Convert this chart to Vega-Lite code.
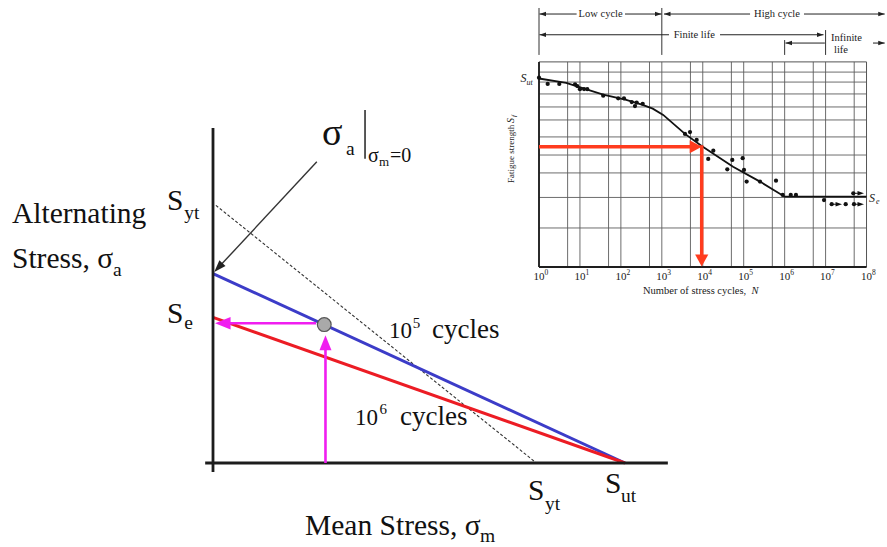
{
  "$schema": "https://vega.github.io/schema/vega-lite/v6.json",
  "width": 887,
  "height": 547,
  "autosize": {"type": "fit", "contains": "padding"},
  "padding": 0,
  "background": "#ffffff",
  "config": {"view": {"stroke": null}, "text": {"font": "Liberation Serif"}},
  "datasets": {
    "main_axes": [
      {"sm": 0, "sa": -2.7, "sm2": 0, "sa2": 101.7},
      {"sm": -1.9, "sa": 0, "sm2": 110.4, "sa2": 0}
    ],
    "yield_line": [{"sm": 0.7, "sa": 78.2, "sm2": 78.5, "sa2": 0}],
    "goodman": [
      {"life": "10^5 cycles", "sm": 0, "sa": 57.5, "sm2": 100, "sa2": 0},
      {"life": "10^6 cycles", "sm": 0, "sa": 44.2, "sm2": 100, "sa2": 0}
    ],
    "projection": [
      {"leg": "up", "sm": 27.3, "sa": 0, "sm2": 27.3, "sa2": 35.8, "tip_sm": 27.3, "tip_sa": 38.8},
      {"leg": "left", "sm": 25.0, "sa": 42.4, "sm2": 2.7, "sa2": 42.4, "tip_sm": 0.5, "tip_sa": 42.4}
    ],
    "operating_point": [{"sm": 27.0, "sa": 42.0}],
    "annotation_arrow": [{"sm": 25.2, "sa": 91.4, "sm2": 1.6, "sa2": 59.7, "tip_sm": 0.3, "tip_sa": 58.0}],
    "annotation_bar": [{"sm": 36.9, "sa": 92.3, "sm2": 36.9, "sa2": 107.1}],
    "main_text": [
      {"text": "Alternating", "sm": -48.79, "sa": 72.84, "role": "label"},
      {"text": "Stress, σ", "sm": -48.79, "sa": 59.18, "role": "label"},
      {"text": "a", "sm": -24.27, "sa": 56.75, "role": "sub"},
      {"text": "S", "sm": -11.17, "sa": 76.78, "role": "label"},
      {"text": "yt", "sm": -7.0, "sa": 74.05, "role": "sub"},
      {"text": "S", "sm": -11.17, "sa": 42.49, "role": "label"},
      {"text": "e", "sm": -7.0, "sa": 40.67, "role": "sub"},
      {"text": "σ", "sm": 26.46, "sa": 96.51, "role": "sigma"},
      {"text": "a", "sm": 32.28, "sa": 93.47, "role": "sub"},
      {"text": "σ", "sm": 37.62, "sa": 91.35, "role": "small"},
      {"text": "m", "sm": 40.29, "sa": 90.14, "role": "tiny"},
      {"text": "=0", "sm": 42.96, "sa": 91.35, "role": "small"},
      {"text": "10", "sm": 42.72, "sa": 37.94, "role": "number"},
      {"text": "5", "sm": 48.5, "sa": 40.97, "role": "sup"},
      {"text": "cycles", "sm": 53.16, "sa": 37.94, "role": "label_mid"},
      {"text": "10", "sm": 34.47, "sa": 11.53, "role": "number"},
      {"text": "6", "sm": 40.4, "sa": 14.87, "role": "sup"},
      {"text": "cycles", "sm": 45.39, "sa": 11.53, "role": "label_mid"},
      {"text": "S", "sm": 76.46, "sa": -11.23, "role": "label"},
      {"text": "yt", "sm": 80.6, "sa": -14.26, "role": "sub"},
      {"text": "S", "sm": 95.15, "sa": -9.1, "role": "label"},
      {"text": "ut", "sm": 99.0, "sa": -11.84, "role": "sub"},
      {"text": "Mean Stress, σ", "sm": 22.33, "sa": -21.85, "role": "label"},
      {"text": "m", "sm": 64.8, "sa": -23.98, "role": "sub"}
    ],
    "sn_grid_v": [
      {"N": 5, "S": 0, "S2": 108.8}, {"N": 10, "S": 0, "S2": 108.8},
      {"N": 50, "S": 0, "S2": 108.8}, {"N": 100, "S": 0, "S2": 108.8},
      {"N": 500, "S": 0, "S2": 108.8}, {"N": 1000, "S": 0, "S2": 108.8},
      {"N": 5000, "S": 0, "S2": 108.8}, {"N": 10000, "S": 0, "S2": 108.8},
      {"N": 50000, "S": 0, "S2": 108.8}, {"N": 100000, "S": 0, "S2": 108.8},
      {"N": 500000, "S": 0, "S2": 108.8}, {"N": 1000000, "S": 0, "S2": 108.8},
      {"N": 5000000, "S": 0, "S2": 108.8}, {"N": 10000000, "S": 0, "S2": 108.8},
      {"N": 50000000, "S": 0, "S2": 108.8}
    ],
    "sn_grid_h": [
      {"N": 1, "N2": 100000000, "S": 20.7}, {"N": 1, "N2": 100000000, "S": 36.9},
      {"N": 1, "N2": 100000000, "S": 49.9}, {"N": 1, "N2": 100000000, "S": 59.4},
      {"N": 1, "N2": 100000000, "S": 69.0}, {"N": 1, "N2": 100000000, "S": 78.0},
      {"N": 1, "N2": 100000000, "S": 84.9}, {"N": 1, "N2": 100000000, "S": 91.8},
      {"N": 1, "N2": 100000000, "S": 98.1}, {"N": 1, "N2": 100000000, "S": 103.4}
    ],
    "sn_frame": [{"N": 1, "N2": 100000000, "S": 0, "S2": 108.8}],
    "sn_frame_edges": [
      {"N": 1, "N2": 1, "S": 0, "S2": 108.8},
      {"N": 1, "N2": 100000000, "S": 0, "S2": 0}
    ],
    "life_ticks": [
      {"N": 1, "S": 112.5, "S2": 137.4},
      {"N": 1000, "S": 112.5, "S2": 137.4},
      {"N": 1000000, "S": 112.5, "S2": 120.4},
      {"N": 10000000, "S": 112.5, "S2": 125.7}
    ],
    "life_spans": [
      {"span": "Low cycle", "N": 1.03, "N2": 8.3, "S": 134.2},
      {"span": "Low cycle", "N": 126, "N2": 982, "S": 134.2},
      {"span": "High cycle", "N": 1130, "N2": 143000, "S": 134.2},
      {"span": "High cycle", "N": 2970000, "N2": 278000000, "S": 134.2},
      {"span": "Finite life", "N": 1.03, "N2": 1497, "S": 123.2},
      {"span": "Finite life", "N": 26400, "N2": 8900000, "S": 123.2},
      {"span": "Infinite life", "N": 1050000, "N2": 9600000, "S": 118.8},
      {"span": "Infinite life", "N": 144000000, "N2": 278000000, "S": 118.8}
    ],
    "life_heads": [
      {"N": 1.03, "S": 134.2, "points": "left"},
      {"N": 982, "S": 134.2, "points": "right"},
      {"N": 1130, "S": 134.2, "points": "left"},
      {"N": 278000000, "S": 134.2, "points": "right"},
      {"N": 1.03, "S": 123.2, "points": "left"},
      {"N": 8900000, "S": 123.2, "points": "right"},
      {"N": 1050000, "S": 118.8, "points": "left"},
      {"N": 278000000, "S": 118.8, "points": "right"}
    ],
    "lookup": [
      {"leg": "across", "N": 1, "S": 63.8, "N2": 6110, "S2": 63.8, "tip_N": 9420, "tip_S": 63.8},
      {"leg": "down", "N": 9420, "S": 64.6, "N2": 9420, "S2": 5.0, "tip_N": 9420, "tip_S": 0.2}
    ],
    "sn_curve": [
      {"N": 1, "S": 100.0}, {"N": 4.6, "S": 97.7}, {"N": 37, "S": 91.4},
      {"N": 135, "S": 88.7}, {"N": 340, "S": 86.0}, {"N": 600, "S": 84.0},
      {"N": 1080, "S": 80.7}, {"N": 3680, "S": 70.6}, {"N": 9400, "S": 64.2},
      {"N": 55000, "S": 53.2}, {"N": 250000, "S": 45.3}, {"N": 1000000, "S": 37.3},
      {"N": 100000000, "S": 37.3}
    ],
    "sn_tests": [
      {"N": 1.0, "S": 100.4}, {"N": 1.63, "S": 97.1}, {"N": 3.13, "S": 97.1},
      {"N": 7.6, "S": 96.9}, {"N": 8.6, "S": 96.0}, {"N": 10.0, "S": 94.3},
      {"N": 12.6, "S": 94.4}, {"N": 15.1, "S": 94.3}, {"N": 37, "S": 90.9},
      {"N": 86, "S": 89.5}, {"N": 119, "S": 89.5}, {"N": 184, "S": 87.5},
      {"N": 221, "S": 85.4}, {"N": 243, "S": 87.2}, {"N": 341, "S": 86.6},
      {"N": 3680, "S": 70.6}, {"N": 4880, "S": 71.6}, {"N": 7100, "S": 67.4},
      {"N": 13600, "S": 57.3}, {"N": 18100, "S": 61.7}, {"N": 39700, "S": 51.8},
      {"N": 52600, "S": 56.8}, {"N": 94400, "S": 57.7}, {"N": 101700, "S": 51.5},
      {"N": 118000, "S": 45.3}, {"N": 250000, "S": 45.3}, {"N": 615000, "S": 45.8},
      {"N": 897000, "S": 38.2}, {"N": 1410000, "S": 38.2}, {"N": 1890000, "S": 38.2},
      {"N": 9150000, "S": 35.5}, {"N": 47500000, "S": 39.1}, {"N": 14100000, "S": 33.3},
      {"N": 31000000, "S": 33.3}, {"N": 49400000, "S": 33.3}
    ],
    "sn_runouts": [
      {"N": 14100000, "S": 33.3, "N_end": 21300000, "tip_N": 25200000},
      {"N": 49400000, "S": 33.3, "N_end": 73300000, "tip_N": 86800000},
      {"N": 47500000, "S": 39.1, "N_end": 73300000, "tip_N": 86800000}
    ],
    "sn_ticks": [
      {"N": 1, "base": "10", "exp": "0", "S": -6.9, "S_exp": -4.0},
      {"N": 10, "base": "10", "exp": "1", "S": -6.9, "S_exp": -4.0},
      {"N": 100, "base": "10", "exp": "2", "S": -6.9, "S_exp": -4.0},
      {"N": 1000, "base": "10", "exp": "3", "S": -6.9, "S_exp": -4.0},
      {"N": 10000, "base": "10", "exp": "4", "S": -6.9, "S_exp": -4.0},
      {"N": 100000, "base": "10", "exp": "5", "S": -6.9, "S_exp": -4.0},
      {"N": 1000000, "base": "10", "exp": "6", "S": -6.9, "S_exp": -4.0},
      {"N": 10000000, "base": "10", "exp": "7", "S": -6.9, "S_exp": -4.0},
      {"N": 100000000, "base": "10", "exp": "8", "S": -6.9, "S_exp": -4.0}
    ],
    "sn_text": [
      {"text": "Low cycle", "N": 32, "S": 134.2, "role": "header"},
      {"text": "High cycle", "N": 650000, "S": 134.2, "role": "header"},
      {"text": "Finite life", "N": 6200, "S": 123.2, "role": "header"},
      {"text": "life", "N": 23800000, "S": 115.1, "role": "header"},
      {"text": "Infinite", "N": 13560000, "S": 121.5, "role": "header_left"},
      {"text": "Number of stress cycles,", "N": 347, "S": -14.3, "role": "title"},
      {"text": "N", "N": 155000, "S": -14.3, "role": "title_italic"},
      {"text": "S", "N": 0.495, "S": 98.1, "role": "strength_right"},
      {"text": "ut", "N": 0.495, "S": 96.8, "role": "strength_sub"},
      {"text": "S", "N": 115000000, "S": 34.5, "role": "strength_left"},
      {"text": "e", "N": 170000000, "S": 33.2, "role": "strength_sub"},
      {"text": "Fatigue strength", "N": 0.207, "S": 44.6, "role": "ytitle"},
      {"text": "S", "N": 0.207, "S": 76.4, "role": "ytitle_italic"},
      {"text": "f", "N": 0.245, "S": 79.6, "role": "ytitle_sub"}
    ]
  },
  "layer": [
    {
      "layer": [
        {
          "data": {"name": "yield_line"},
          "mark": {"type": "rule", "color": "#333333", "strokeWidth": 1.1, "strokeDash": [3, 2]},
          "encoding": {
            "x": {"field": "sm", "type": "quantitative", "scale": {"domain": [-51.699, 163.592], "nice": false, "zero": false}, "axis": null},
            "y": {"field": "sa", "type": "quantitative", "scale": {"domain": [-25.493, 140.516], "nice": false, "zero": false}, "axis": null},
            "x2": {"field": "sm2"}, "y2": {"field": "sa2"}
          }
        },
        {
          "data": {"name": "goodman"},
          "mark": {"type": "rule", "strokeWidth": 3},
          "encoding": {
            "x": {"field": "sm", "type": "quantitative", "scale": {"domain": [-51.699, 163.592], "nice": false, "zero": false}, "axis": null},
            "y": {"field": "sa", "type": "quantitative", "scale": {"domain": [-25.493, 140.516], "nice": false, "zero": false}, "axis": null},
            "x2": {"field": "sm2"}, "y2": {"field": "sa2"},
            "color": {"field": "life", "type": "nominal", "scale": {"domain": ["10^5 cycles", "10^6 cycles"], "range": ["#3c3cc8", "#ec1c24"]}, "legend": null}
          }
        },
        {
          "data": {"name": "main_axes"},
          "mark": {"type": "rule", "color": "#1c1c1c", "strokeWidth": 2.8},
          "encoding": {
            "x": {"field": "sm", "type": "quantitative", "scale": {"domain": [-51.699, 163.592], "nice": false, "zero": false}, "axis": null},
            "y": {"field": "sa", "type": "quantitative", "scale": {"domain": [-25.493, 140.516], "nice": false, "zero": false}, "axis": null},
            "x2": {"field": "sm2"}, "y2": {"field": "sa2"}
          }
        },
        {
          "data": {"name": "projection"},
          "mark": {"type": "rule", "color": "#f01ef0", "strokeWidth": 2.6},
          "encoding": {
            "x": {"field": "sm", "type": "quantitative", "scale": {"domain": [-51.699, 163.592], "nice": false, "zero": false}, "axis": null},
            "y": {"field": "sa", "type": "quantitative", "scale": {"domain": [-25.493, 140.516], "nice": false, "zero": false}, "axis": null},
            "x2": {"field": "sm2"}, "y2": {"field": "sa2"}
          }
        },
        {
          "data": {"name": "projection"},
          "transform": [{"filter": "datum.leg === 'up'"}],
          "mark": {"type": "point", "shape": "M0,0L-2,-0.8L-2,0.8Z", "filled": true, "size": 225, "angle": 270, "color": "#f01ef0", "opacity": 1, "strokeWidth": 0},
          "encoding": {
            "x": {"field": "tip_sm", "type": "quantitative", "scale": {"domain": [-51.699, 163.592], "nice": false, "zero": false}, "axis": null},
            "y": {"field": "tip_sa", "type": "quantitative", "scale": {"domain": [-25.493, 140.516], "nice": false, "zero": false}, "axis": null}
          }
        },
        {
          "data": {"name": "projection"},
          "transform": [{"filter": "datum.leg === 'left'"}],
          "mark": {"type": "point", "shape": "M0,0L-2,-0.8L-2,0.8Z", "filled": true, "size": 240, "angle": 180, "color": "#f01ef0", "opacity": 1, "strokeWidth": 0},
          "encoding": {
            "x": {"field": "tip_sm", "type": "quantitative", "scale": {"domain": [-51.699, 163.592], "nice": false, "zero": false}, "axis": null},
            "y": {"field": "tip_sa", "type": "quantitative", "scale": {"domain": [-25.493, 140.516], "nice": false, "zero": false}, "axis": null}
          }
        },
        {
          "data": {"name": "operating_point"},
          "mark": {"type": "point", "shape": "circle", "filled": true, "size": 190, "fill": "#a9a9a9", "stroke": "#555555", "strokeWidth": 1.2, "opacity": 1},
          "encoding": {
            "x": {"field": "sm", "type": "quantitative", "scale": {"domain": [-51.699, 163.592], "nice": false, "zero": false}, "axis": null},
            "y": {"field": "sa", "type": "quantitative", "scale": {"domain": [-25.493, 140.516], "nice": false, "zero": false}, "axis": null}
          }
        },
        {
          "data": {"name": "annotation_arrow"},
          "mark": {"type": "rule", "color": "#333333", "strokeWidth": 1.4},
          "encoding": {
            "x": {"field": "sm", "type": "quantitative", "scale": {"domain": [-51.699, 163.592], "nice": false, "zero": false}, "axis": null},
            "y": {"field": "sa", "type": "quantitative", "scale": {"domain": [-25.493, 140.516], "nice": false, "zero": false}, "axis": null},
            "x2": {"field": "sm2"}, "y2": {"field": "sa2"}
          }
        },
        {
          "data": {"name": "annotation_arrow"},
          "mark": {"type": "point", "shape": "M0,0L-2,-0.7L-2,0.7Z", "filled": true, "size": 144, "angle": 133.2, "color": "#222222", "opacity": 1, "strokeWidth": 0},
          "encoding": {
            "x": {"field": "tip_sm", "type": "quantitative", "scale": {"domain": [-51.699, 163.592], "nice": false, "zero": false}, "axis": null},
            "y": {"field": "tip_sa", "type": "quantitative", "scale": {"domain": [-25.493, 140.516], "nice": false, "zero": false}, "axis": null}
          }
        },
        {
          "data": {"name": "annotation_bar"},
          "mark": {"type": "rule", "color": "#222222", "strokeWidth": 1.5},
          "encoding": {
            "x": {"field": "sm", "type": "quantitative", "scale": {"domain": [-51.699, 163.592], "nice": false, "zero": false}, "axis": null},
            "y": {"field": "sa", "type": "quantitative", "scale": {"domain": [-25.493, 140.516], "nice": false, "zero": false}, "axis": null},
            "x2": {"field": "sm2"}, "y2": {"field": "sa2"}
          }
        },
        {
          "data": {"name": "main_text"},
          "transform": [{"filter": "datum.role === 'label'"}],
          "mark": {"type": "text", "font": "Liberation Serif", "fontSize": 29.5, "align": "left", "baseline": "alphabetic", "color": "#111111"},
          "encoding": {
            "x": {"field": "sm", "type": "quantitative", "scale": {"domain": [-51.699, 163.592], "nice": false, "zero": false}, "axis": null},
            "y": {"field": "sa", "type": "quantitative", "scale": {"domain": [-25.493, 140.516], "nice": false, "zero": false}, "axis": null},
            "text": {"field": "text"}
          }
        },
        {
          "data": {"name": "main_text"},
          "transform": [{"filter": "datum.role === 'label_mid'"}],
          "mark": {"type": "text", "font": "Liberation Serif", "fontSize": 27, "align": "left", "baseline": "alphabetic", "color": "#111111"},
          "encoding": {
            "x": {"field": "sm", "type": "quantitative", "scale": {"domain": [-51.699, 163.592], "nice": false, "zero": false}, "axis": null},
            "y": {"field": "sa", "type": "quantitative", "scale": {"domain": [-25.493, 140.516], "nice": false, "zero": false}, "axis": null},
            "text": {"field": "text"}
          }
        },
        {
          "data": {"name": "main_text"},
          "transform": [{"filter": "datum.role === 'sub'"}],
          "mark": {"type": "text", "font": "Liberation Serif", "fontSize": 19.5, "align": "left", "baseline": "alphabetic", "color": "#111111"},
          "encoding": {
            "x": {"field": "sm", "type": "quantitative", "scale": {"domain": [-51.699, 163.592], "nice": false, "zero": false}, "axis": null},
            "y": {"field": "sa", "type": "quantitative", "scale": {"domain": [-25.493, 140.516], "nice": false, "zero": false}, "axis": null},
            "text": {"field": "text"}
          }
        },
        {
          "data": {"name": "main_text"},
          "transform": [{"filter": "datum.role === 'sigma'"}],
          "mark": {"type": "text", "font": "Liberation Serif", "fontSize": 38, "align": "left", "baseline": "alphabetic", "color": "#111111"},
          "encoding": {
            "x": {"field": "sm", "type": "quantitative", "scale": {"domain": [-51.699, 163.592], "nice": false, "zero": false}, "axis": null},
            "y": {"field": "sa", "type": "quantitative", "scale": {"domain": [-25.493, 140.516], "nice": false, "zero": false}, "axis": null},
            "text": {"field": "text"}
          }
        },
        {
          "data": {"name": "main_text"},
          "transform": [{"filter": "datum.role === 'small'"}],
          "mark": {"type": "text", "font": "Liberation Serif", "fontSize": 20, "align": "left", "baseline": "alphabetic", "color": "#111111"},
          "encoding": {
            "x": {"field": "sm", "type": "quantitative", "scale": {"domain": [-51.699, 163.592], "nice": false, "zero": false}, "axis": null},
            "y": {"field": "sa", "type": "quantitative", "scale": {"domain": [-25.493, 140.516], "nice": false, "zero": false}, "axis": null},
            "text": {"field": "text"}
          }
        },
        {
          "data": {"name": "main_text"},
          "transform": [{"filter": "datum.role === 'tiny'"}],
          "mark": {"type": "text", "font": "Liberation Serif", "fontSize": 13, "align": "left", "baseline": "alphabetic", "color": "#111111"},
          "encoding": {
            "x": {"field": "sm", "type": "quantitative", "scale": {"domain": [-51.699, 163.592], "nice": false, "zero": false}, "axis": null},
            "y": {"field": "sa", "type": "quantitative", "scale": {"domain": [-25.493, 140.516], "nice": false, "zero": false}, "axis": null},
            "text": {"field": "text"}
          }
        },
        {
          "data": {"name": "main_text"},
          "transform": [{"filter": "datum.role === 'number'"}],
          "mark": {"type": "text", "font": "Liberation Serif", "fontSize": 23, "align": "left", "baseline": "alphabetic", "color": "#111111"},
          "encoding": {
            "x": {"field": "sm", "type": "quantitative", "scale": {"domain": [-51.699, 163.592], "nice": false, "zero": false}, "axis": null},
            "y": {"field": "sa", "type": "quantitative", "scale": {"domain": [-25.493, 140.516], "nice": false, "zero": false}, "axis": null},
            "text": {"field": "text"}
          }
        },
        {
          "data": {"name": "main_text"},
          "transform": [{"filter": "datum.role === 'sup'"}],
          "mark": {"type": "text", "font": "Liberation Serif", "fontSize": 15, "align": "left", "baseline": "alphabetic", "color": "#111111"},
          "encoding": {
            "x": {"field": "sm", "type": "quantitative", "scale": {"domain": [-51.699, 163.592], "nice": false, "zero": false}, "axis": null},
            "y": {"field": "sa", "type": "quantitative", "scale": {"domain": [-25.493, 140.516], "nice": false, "zero": false}, "axis": null},
            "text": {"field": "text"}
          }
        }
      ]
    },
    {
      "layer": [
        {
          "data": {"name": "sn_grid_v"},
          "mark": {"type": "rule", "color": "#5c5c5c", "strokeWidth": 0.9},
          "encoding": {
            "x": {"field": "N", "type": "quantitative", "scale": {"type": "log", "domain": [6.829e-14, 316370000], "nice": false}, "axis": null},
            "y": {"field": "S", "type": "quantitative", "scale": {"domain": [-148.54, 141.64], "nice": false, "zero": false}, "axis": null},
            "y2": {"field": "S2"}
          }
        },
        {
          "data": {"name": "sn_grid_h"},
          "mark": {"type": "rule", "color": "#5c5c5c", "strokeWidth": 0.9},
          "encoding": {
            "x": {"field": "N", "type": "quantitative", "scale": {"type": "log", "domain": [6.829e-14, 316370000], "nice": false}, "axis": null},
            "y": {"field": "S", "type": "quantitative", "scale": {"domain": [-148.54, 141.64], "nice": false, "zero": false}, "axis": null},
            "x2": {"field": "N2"}
          }
        },
        {
          "data": {"name": "sn_frame"},
          "mark": {"type": "rect", "filled": false, "stroke": "#555555", "strokeWidth": 1},
          "encoding": {
            "x": {"field": "N", "type": "quantitative", "scale": {"type": "log", "domain": [6.829e-14, 316370000], "nice": false}, "axis": null},
            "y": {"field": "S", "type": "quantitative", "scale": {"domain": [-148.54, 141.64], "nice": false, "zero": false}, "axis": null},
            "x2": {"field": "N2"}, "y2": {"field": "S2"}
          }
        },
        {
          "data": {"name": "sn_frame_edges"},
          "mark": {"type": "rule", "color": "#1e1e1e", "strokeWidth": 1.8},
          "encoding": {
            "x": {"field": "N", "type": "quantitative", "scale": {"type": "log", "domain": [6.829e-14, 316370000], "nice": false}, "axis": null},
            "y": {"field": "S", "type": "quantitative", "scale": {"domain": [-148.54, 141.64], "nice": false, "zero": false}, "axis": null},
            "x2": {"field": "N2"}, "y2": {"field": "S2"}
          }
        },
        {
          "data": {"name": "life_ticks"},
          "mark": {"type": "rule", "color": "#333333", "strokeWidth": 1},
          "encoding": {
            "x": {"field": "N", "type": "quantitative", "scale": {"type": "log", "domain": [6.829e-14, 316370000], "nice": false}, "axis": null},
            "y": {"field": "S", "type": "quantitative", "scale": {"domain": [-148.54, 141.64], "nice": false, "zero": false}, "axis": null},
            "y2": {"field": "S2"}
          }
        },
        {
          "data": {"name": "life_spans"},
          "mark": {"type": "rule", "color": "#222222", "strokeWidth": 1},
          "encoding": {
            "x": {"field": "N", "type": "quantitative", "scale": {"type": "log", "domain": [6.829e-14, 316370000], "nice": false}, "axis": null},
            "y": {"field": "S", "type": "quantitative", "scale": {"domain": [-148.54, 141.64], "nice": false, "zero": false}, "axis": null},
            "x2": {"field": "N2"}
          }
        },
        {
          "data": {"name": "life_heads"},
          "transform": [{"filter": "datum.points === 'left'"}],
          "mark": {"type": "point", "shape": "M0,0L-2,-0.7L-2,0.7Z", "filled": true, "size": 42, "angle": 180, "color": "#222222", "opacity": 1, "strokeWidth": 0},
          "encoding": {
            "x": {"field": "N", "type": "quantitative", "scale": {"type": "log", "domain": [6.829e-14, 316370000], "nice": false}, "axis": null},
            "y": {"field": "S", "type": "quantitative", "scale": {"domain": [-148.54, 141.64], "nice": false, "zero": false}, "axis": null}
          }
        },
        {
          "data": {"name": "life_heads"},
          "transform": [{"filter": "datum.points === 'right'"}],
          "mark": {"type": "point", "shape": "M0,0L-2,-0.7L-2,0.7Z", "filled": true, "size": 42, "angle": 0, "color": "#222222", "opacity": 1, "strokeWidth": 0},
          "encoding": {
            "x": {"field": "N", "type": "quantitative", "scale": {"type": "log", "domain": [6.829e-14, 316370000], "nice": false}, "axis": null},
            "y": {"field": "S", "type": "quantitative", "scale": {"domain": [-148.54, 141.64], "nice": false, "zero": false}, "axis": null}
          }
        },
        {
          "data": {"name": "sn_curve"},
          "mark": {"type": "line", "color": "#111111", "strokeWidth": 1.8},
          "encoding": {
            "x": {"field": "N", "type": "quantitative", "scale": {"type": "log", "domain": [6.829e-14, 316370000], "nice": false}, "axis": null},
            "y": {"field": "S", "type": "quantitative", "scale": {"domain": [-148.54, 141.64], "nice": false, "zero": false}, "axis": null}
          }
        },
        {
          "data": {"name": "sn_runouts"},
          "mark": {"type": "rule", "color": "#111111", "strokeWidth": 1},
          "encoding": {
            "x": {"field": "N", "type": "quantitative", "scale": {"type": "log", "domain": [6.829e-14, 316370000], "nice": false}, "axis": null},
            "y": {"field": "S", "type": "quantitative", "scale": {"domain": [-148.54, 141.64], "nice": false, "zero": false}, "axis": null},
            "x2": {"field": "N_end"}
          }
        },
        {
          "data": {"name": "sn_runouts"},
          "mark": {"type": "point", "shape": "M0,0L-2,-0.7L-2,0.7Z", "filled": true, "size": 42, "angle": 0, "color": "#111111", "opacity": 1, "strokeWidth": 0},
          "encoding": {
            "x": {"field": "tip_N", "type": "quantitative", "scale": {"type": "log", "domain": [6.829e-14, 316370000], "nice": false}, "axis": null},
            "y": {"field": "S", "type": "quantitative", "scale": {"domain": [-148.54, 141.64], "nice": false, "zero": false}, "axis": null}
          }
        },
        {
          "data": {"name": "sn_tests"},
          "mark": {"type": "point", "shape": "circle", "filled": true, "size": 18, "color": "#111111", "opacity": 1},
          "encoding": {
            "x": {"field": "N", "type": "quantitative", "scale": {"type": "log", "domain": [6.829e-14, 316370000], "nice": false}, "axis": null},
            "y": {"field": "S", "type": "quantitative", "scale": {"domain": [-148.54, 141.64], "nice": false, "zero": false}, "axis": null}
          }
        },
        {
          "data": {"name": "lookup"},
          "mark": {"type": "rule", "color": "#ff3c1e", "strokeWidth": 3.5},
          "encoding": {
            "x": {"field": "N", "type": "quantitative", "scale": {"type": "log", "domain": [6.829e-14, 316370000], "nice": false}, "axis": null},
            "y": {"field": "S", "type": "quantitative", "scale": {"domain": [-148.54, 141.64], "nice": false, "zero": false}, "axis": null},
            "x2": {"field": "N2"}, "y2": {"field": "S2"}
          }
        },
        {
          "data": {"name": "lookup"},
          "transform": [{"filter": "datum.leg === 'across'"}],
          "mark": {"type": "point", "shape": "M0,0L-2,-1.1L-2,1.1Z", "filled": true, "size": 144, "angle": 0, "color": "#ff3c1e", "opacity": 1, "strokeWidth": 0},
          "encoding": {
            "x": {"field": "tip_N", "type": "quantitative", "scale": {"type": "log", "domain": [6.829e-14, 316370000], "nice": false}, "axis": null},
            "y": {"field": "tip_S", "type": "quantitative", "scale": {"domain": [-148.54, 141.64], "nice": false, "zero": false}, "axis": null}
          }
        },
        {
          "data": {"name": "lookup"},
          "transform": [{"filter": "datum.leg === 'down'"}],
          "mark": {"type": "point", "shape": "M0,0L-2,-1.1L-2,1.1Z", "filled": true, "size": 144, "angle": 90, "color": "#ff3c1e", "opacity": 1, "strokeWidth": 0},
          "encoding": {
            "x": {"field": "tip_N", "type": "quantitative", "scale": {"type": "log", "domain": [6.829e-14, 316370000], "nice": false}, "axis": null},
            "y": {"field": "tip_S", "type": "quantitative", "scale": {"domain": [-148.54, 141.64], "nice": false, "zero": false}, "axis": null}
          }
        },
        {
          "data": {"name": "sn_ticks"},
          "mark": {"type": "text", "font": "Liberation Serif", "fontSize": 11, "align": "center", "baseline": "alphabetic", "color": "#1a1a1a"},
          "encoding": {
            "x": {"field": "N", "type": "quantitative", "scale": {"type": "log", "domain": [6.829e-14, 316370000], "nice": false}, "axis": null},
            "y": {"field": "S", "type": "quantitative", "scale": {"domain": [-148.54, 141.64], "nice": false, "zero": false}, "axis": null},
            "text": {"field": "base"}
          }
        },
        {
          "data": {"name": "sn_ticks"},
          "mark": {"type": "text", "font": "Liberation Serif", "fontSize": 7.5, "align": "left", "baseline": "alphabetic", "dx": 5.5, "color": "#1a1a1a"},
          "encoding": {
            "x": {"field": "N", "type": "quantitative", "scale": {"type": "log", "domain": [6.829e-14, 316370000], "nice": false}, "axis": null},
            "y": {"field": "S_exp", "type": "quantitative", "scale": {"domain": [-148.54, 141.64], "nice": false, "zero": false}, "axis": null},
            "text": {"field": "exp"}
          }
        },
        {
          "data": {"name": "sn_text"},
          "transform": [{"filter": "datum.role === 'header'"}],
          "mark": {"type": "text", "font": "Liberation Serif", "fontSize": 10.5, "align": "center", "baseline": "middle", "color": "#1a1a1a"},
          "encoding": {
            "x": {"field": "N", "type": "quantitative", "scale": {"type": "log", "domain": [6.829e-14, 316370000], "nice": false}, "axis": null},
            "y": {"field": "S", "type": "quantitative", "scale": {"domain": [-148.54, 141.64], "nice": false, "zero": false}, "axis": null},
            "text": {"field": "text"}
          }
        },
        {
          "data": {"name": "sn_text"},
          "transform": [{"filter": "datum.role === 'header_left'"}],
          "mark": {"type": "text", "font": "Liberation Serif", "fontSize": 10.5, "align": "left", "baseline": "middle", "color": "#1a1a1a"},
          "encoding": {
            "x": {"field": "N", "type": "quantitative", "scale": {"type": "log", "domain": [6.829e-14, 316370000], "nice": false}, "axis": null},
            "y": {"field": "S", "type": "quantitative", "scale": {"domain": [-148.54, 141.64], "nice": false, "zero": false}, "axis": null},
            "text": {"field": "text"}
          }
        },
        {
          "data": {"name": "sn_text"},
          "transform": [{"filter": "datum.role === 'title'"}],
          "mark": {"type": "text", "font": "Liberation Serif", "fontSize": 10.5, "align": "left", "baseline": "alphabetic", "color": "#1a1a1a"},
          "encoding": {
            "x": {"field": "N", "type": "quantitative", "scale": {"type": "log", "domain": [6.829e-14, 316370000], "nice": false}, "axis": null},
            "y": {"field": "S", "type": "quantitative", "scale": {"domain": [-148.54, 141.64], "nice": false, "zero": false}, "axis": null},
            "text": {"field": "text"}
          }
        },
        {
          "data": {"name": "sn_text"},
          "transform": [{"filter": "datum.role === 'title_italic'"}],
          "mark": {"type": "text", "font": "Liberation Serif", "fontSize": 10.5, "fontStyle": "italic", "align": "left", "baseline": "alphabetic", "color": "#1a1a1a"},
          "encoding": {
            "x": {"field": "N", "type": "quantitative", "scale": {"type": "log", "domain": [6.829e-14, 316370000], "nice": false}, "axis": null},
            "y": {"field": "S", "type": "quantitative", "scale": {"domain": [-148.54, 141.64], "nice": false, "zero": false}, "axis": null},
            "text": {"field": "text"}
          }
        },
        {
          "data": {"name": "sn_text"},
          "transform": [{"filter": "datum.role === 'strength_right'"}],
          "mark": {"type": "text", "font": "Liberation Serif", "fontSize": 12, "fontStyle": "italic", "align": "right", "baseline": "alphabetic", "color": "#1a1a1a"},
          "encoding": {
            "x": {"field": "N", "type": "quantitative", "scale": {"type": "log", "domain": [6.829e-14, 316370000], "nice": false}, "axis": null},
            "y": {"field": "S", "type": "quantitative", "scale": {"domain": [-148.54, 141.64], "nice": false, "zero": false}, "axis": null},
            "text": {"field": "text"}
          }
        },
        {
          "data": {"name": "sn_text"},
          "transform": [{"filter": "datum.role === 'strength_left'"}],
          "mark": {"type": "text", "font": "Liberation Serif", "fontSize": 12, "fontStyle": "italic", "align": "left", "baseline": "alphabetic", "color": "#1a1a1a"},
          "encoding": {
            "x": {"field": "N", "type": "quantitative", "scale": {"type": "log", "domain": [6.829e-14, 316370000], "nice": false}, "axis": null},
            "y": {"field": "S", "type": "quantitative", "scale": {"domain": [-148.54, 141.64], "nice": false, "zero": false}, "axis": null},
            "text": {"field": "text"}
          }
        },
        {
          "data": {"name": "sn_text"},
          "transform": [{"filter": "datum.role === 'strength_sub'"}],
          "mark": {"type": "text", "font": "Liberation Serif", "fontSize": 8, "fontStyle": "italic", "align": "left", "baseline": "alphabetic", "color": "#1a1a1a"},
          "encoding": {
            "x": {"field": "N", "type": "quantitative", "scale": {"type": "log", "domain": [6.829e-14, 316370000], "nice": false}, "axis": null},
            "y": {"field": "S", "type": "quantitative", "scale": {"domain": [-148.54, 141.64], "nice": false, "zero": false}, "axis": null},
            "text": {"field": "text"}
          }
        },
        {
          "data": {"name": "sn_text"},
          "transform": [{"filter": "datum.role === 'ytitle'"}],
          "mark": {"type": "text", "font": "Liberation Serif", "fontSize": 9, "angle": 270, "align": "left", "baseline": "middle", "color": "#1a1a1a"},
          "encoding": {
            "x": {"field": "N", "type": "quantitative", "scale": {"type": "log", "domain": [6.829e-14, 316370000], "nice": false}, "axis": null},
            "y": {"field": "S", "type": "quantitative", "scale": {"domain": [-148.54, 141.64], "nice": false, "zero": false}, "axis": null},
            "text": {"field": "text"}
          }
        },
        {
          "data": {"name": "sn_text"},
          "transform": [{"filter": "datum.role === 'ytitle_italic'"}],
          "mark": {"type": "text", "font": "Liberation Serif", "fontSize": 10, "fontStyle": "italic", "angle": 270, "align": "left", "baseline": "middle", "color": "#1a1a1a"},
          "encoding": {
            "x": {"field": "N", "type": "quantitative", "scale": {"type": "log", "domain": [6.829e-14, 316370000], "nice": false}, "axis": null},
            "y": {"field": "S", "type": "quantitative", "scale": {"domain": [-148.54, 141.64], "nice": false, "zero": false}, "axis": null},
            "text": {"field": "text"}
          }
        },
        {
          "data": {"name": "sn_text"},
          "transform": [{"filter": "datum.role === 'ytitle_sub'"}],
          "mark": {"type": "text", "font": "Liberation Serif", "fontSize": 7, "fontStyle": "italic", "angle": 270, "align": "left", "baseline": "middle", "color": "#1a1a1a"},
          "encoding": {
            "x": {"field": "N", "type": "quantitative", "scale": {"type": "log", "domain": [6.829e-14, 316370000], "nice": false}, "axis": null},
            "y": {"field": "S", "type": "quantitative", "scale": {"domain": [-148.54, 141.64], "nice": false, "zero": false}, "axis": null},
            "text": {"field": "text"}
          }
        }
      ]
    }
  ],
  "resolve": {"scale": {"x": "independent", "y": "independent"}}
}
